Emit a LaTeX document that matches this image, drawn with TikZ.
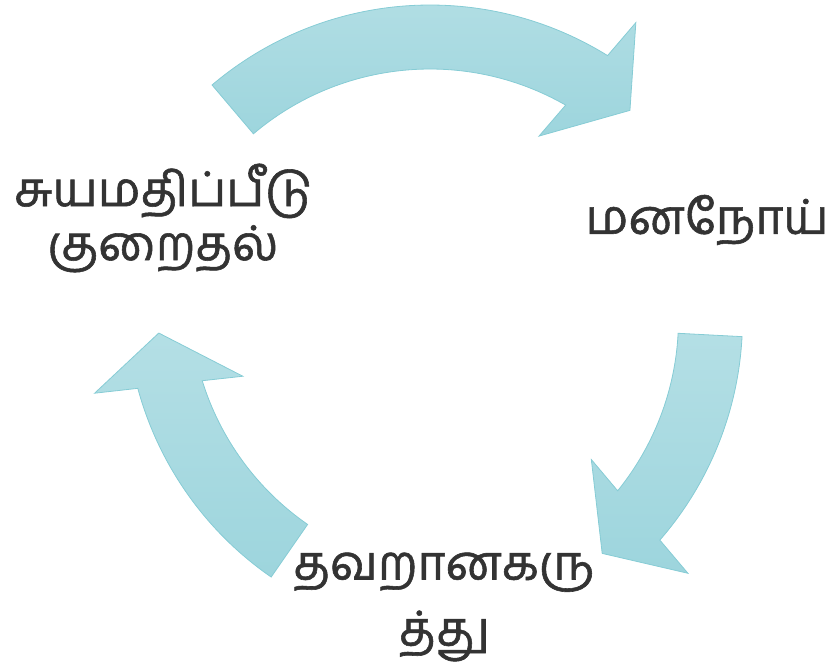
\documentclass[tikz,border=0pt]{standalone}
\usepackage{fontspec}
\usepackage{tikz}
\newfontfamily\tamilfont[Script=Tamil,FakeBold=1.2]{Hind Madurai}
\definecolor{arrowtop}{HTML}{B4DFE5}
\definecolor{arrowbot}{HTML}{9DD5DD}
\definecolor{arrowline}{HTML}{86CCD5}
\definecolor{labeltext}{HTML}{333333}

% one curved block arrow: centre, tail angle, head shoulder angle
\newcommand{\cyclearrow}[3]{%
  \begin{scope}[shift={(#1)}]
    \draw[cycle arrow] (#2:337) arc[start angle=#2, end angle=#3, radius=337]
      -- ({#3-1}:380) -- ({#3-9}:306) -- ({#3+3.9}:233) -- ({#3+2}:273)
      arc[start angle={#3+2}, end angle=#2, radius=273] -- cycle;
  \end{scope}}

\begin{document}
\begin{tikzpicture}[x=1pt,y=1pt]
\tikzstyle{cycle arrow}=[draw=arrowline,line width=0.8pt,top color=arrowtop,bottom color=arrowbot]
\tikzstyle{stage}=[text=labeltext,font=\tamilfont\fontsize{48}{54}\selectfont,align=center,inner sep=0pt]
\useasboundingbox (0,0) rectangle (833,665);

\coordinate (ctop) at (430,323);
\coordinate (cright) at (405.5,346);
\coordinate (cleft) at (463,365);

\cyclearrow{ctop}{130.3}{58.2}
\cyclearrow{cright}{-3}{-41}
\cyclearrow{cleft}{235.3}{195.2}

\node[stage] (selfworth) at (163,447) {சுயமதிப்பீடு\\குறைதல்};
\node[stage] (illness) at (707,445) {மனநோய்};
\node[stage] (belief) at (444,58) {தவறானகரு\\[12pt]த்து};

\end{tikzpicture}
\end{document}
